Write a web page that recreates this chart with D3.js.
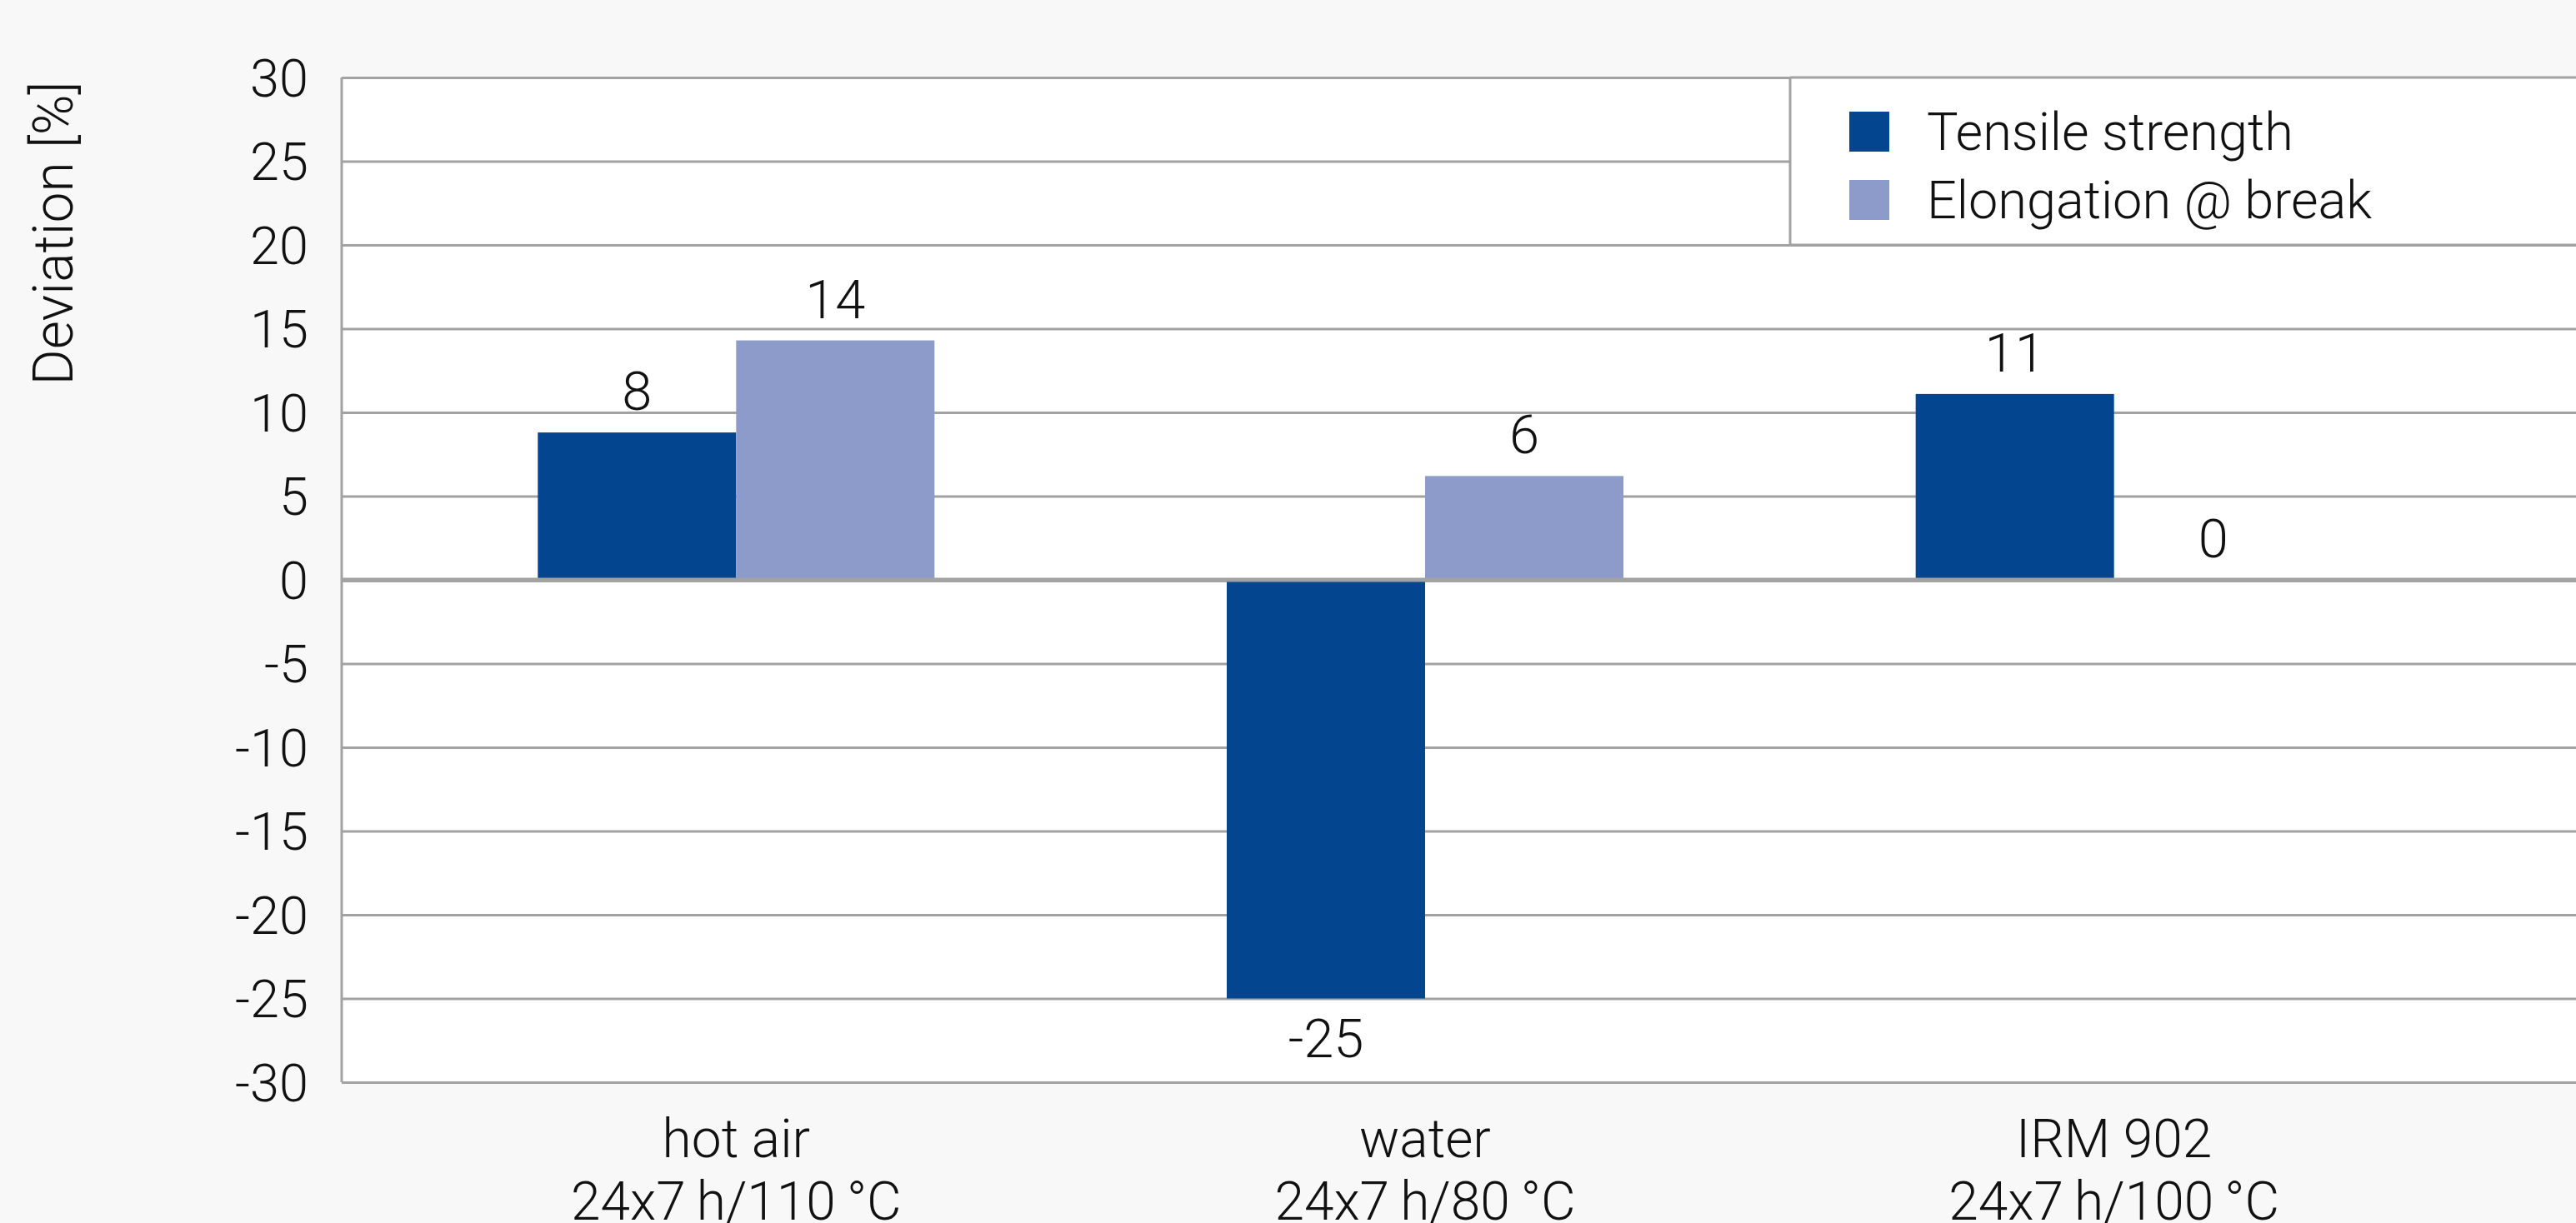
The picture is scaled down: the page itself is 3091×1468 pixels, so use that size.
<!DOCTYPE html>
<html>
<head>
<meta charset="utf-8">
<script src="https://cdn.jsdelivr.net/npm/d3@7"></script>
<style>
  html, body { margin: 0; padding: 0; background: #f8f8f8; overflow: hidden; }
  text { font-family: Roboto, "Liberation Sans", sans-serif; font-weight: 300; fill: #111; }
</style>
</head>
<body>
<div id="chart"></div>
<script>
// chart values
var categories = ["hot air", "water", "IRM 902"];
var conditions = ["24x7\u2009h/110\u2009°C", "24x7\u2009h/80\u2009°C", "24x7\u2009h/100\u2009°C"];
var series = ["Tensile strength", "Elongation @ break"];
var tensile = [8.8, -25, 11.1];
var elongation = [14.3, 6.2, 0];
var tensileLabels = ["8", "-25", "11"];
var elongationLabels = ["14", "6", "0"];
var yTicks = [30, 25, 20, 15, 10, 5, 0, -5, -10, -15, -20, -25, -30];
var colors = ["#03468f", "#8c9bca"];

var width = 3091, height = 1468;
var plotLeft = 410, plotRight = 3091, plotTop = 93, plotBottom = 1299;

var svg = d3.select("#chart")
    .append("svg")
    .attr("width", width)
    .attr("height", height);

var y = d3.scaleLinear().domain([-30, 30]).range([plotBottom, plotTop]);
var x0 = d3.scaleBand().domain(categories).range([470, 2950]);
var x1 = d3.scaleBand().domain(series).range([0, 476]);

// build rows for bars
var rows = [];
categories.forEach(function(c, i) {
    rows.push({cat: c, s: series[0], v: tensile[i], label: tensileLabels[i]});
    rows.push({cat: c, s: series[1], v: elongation[i], label: elongationLabels[i]});
});
function barX(d) {
    return x0(d.cat) + x0.bandwidth() / 2 - 238 + x1(d.s);
}

// plot background
svg.append("rect")
    .attr("x", plotLeft).attr("y", plotTop)
    .attr("width", plotRight - plotLeft).attr("height", plotBottom - plotTop)
    .attr("fill", "#ffffff");

// gridlines
var grid = svg.append("g")
    .attr("transform", "translate(" + plotLeft + ",0)")
    .call(d3.axisLeft(y).tickValues(yTicks).tickSize(-(plotRight - plotLeft)).tickFormat(""));
grid.select(".domain").remove();
grid.selectAll("line")
    .attr("stroke", "#a2a2a2")
    .attr("stroke-width", function(d) { return d === 0 ? 5 : 3; });

// legend box
var lx = 2148;
var legend = svg.append("g");
legend.append("rect")
    .attr("x", lx).attr("y", y(30))
    .attr("width", plotRight - lx).attr("height", y(20) - y(30))
    .attr("fill", "#ffffff");
[30, 20].forEach(function(v) {
    legend.append("line")
        .attr("x1", lx).attr("x2", plotRight)
        .attr("y1", y(v)).attr("y2", y(v))
        .attr("stroke", "#a2a2a2").attr("stroke-width", 3);
});
legend.append("line")
    .attr("x1", lx).attr("x2", lx)
    .attr("y1", y(30)).attr("y2", y(20))
    .attr("stroke", "#a2a2a2").attr("stroke-width", 3);

var item = legend.selectAll(".item")
    .data(series)
    .enter()
    .append("g")
    .attr("transform", function(d, i) { return "translate(2219," + (134 + i * 82) + ")"; });
item.append("rect")
    .attr("width", 48).attr("height", 48)
    .attr("fill", function(d, i) { return colors[i]; });
item.append("text")
    .attr("x", 93).attr("y", 46)
    .style("font-size", "63px")
    .text(function(d) { return d; });

// bars
svg.selectAll(".bar")
    .data(rows)
    .enter()
    .append("rect")
    .attr("x", barX)
    .attr("width", x1.bandwidth())
    .attr("y", function(d) { return y(Math.max(0, d.v)); })
    .attr("height", function(d) { return Math.abs(y(d.v) - y(0)); })
    .attr("fill", function(d) { return colors[series.indexOf(d.s)]; });

// zero line on top of bars
svg.append("line")
    .attr("x1", plotLeft).attr("x2", plotRight)
    .attr("y1", y(0)).attr("y2", y(0))
    .attr("stroke", "#a2a2a2").attr("stroke-width", 5);

// left axis line
svg.append("line")
    .attr("x1", plotLeft).attr("x2", plotLeft)
    .attr("y1", plotTop).attr("y2", plotBottom)
    .attr("stroke", "#a2a2a2").attr("stroke-width", 3);

// value labels
svg.selectAll(".val")
    .data(rows)
    .enter()
    .append("text")
    .attr("x", function(d) { return barX(d) + x1.bandwidth() / 2; })
    .attr("y", function(d) { return d.v < 0 ? y(d.v) + 70 : y(d.v) - 27; })
    .attr("text-anchor", "middle")
    .style("font-size", "65px")
    .text(function(d) { return d.label; });

// y tick labels
svg.selectAll(".ytick")
    .data(yTicks)
    .enter()
    .append("text")
    .attr("x", 370)
    .attr("y", function(d) { return y(d); })
    .attr("dy", "0.36em")
    .attr("text-anchor", "end")
    .style("font-size", "63px")
    .text(function(d) { return d; });

// y axis title
svg.append("text")
    .attr("transform", "translate(87,280) rotate(-90)")
    .attr("text-anchor", "middle")
    .style("font-size", "66px")
    .text("Deviation [%]");

// category labels
var cat = svg.selectAll(".cat")
    .data(categories)
    .enter()
    .append("text")
    .attr("text-anchor", "middle")
    .style("font-size", "64px");
cat.append("tspan")
    .attr("x", function(d) { return x0(d) + x0.bandwidth() / 2; })
    .attr("y", 1389)
    .text(function(d) { return d; });
cat.append("tspan")
    .attr("x", function(d) { return x0(d) + x0.bandwidth() / 2; })
    .attr("y", 1464)
    .text(function(d, i) { return conditions[i]; });
</script>
</body>
</html>
